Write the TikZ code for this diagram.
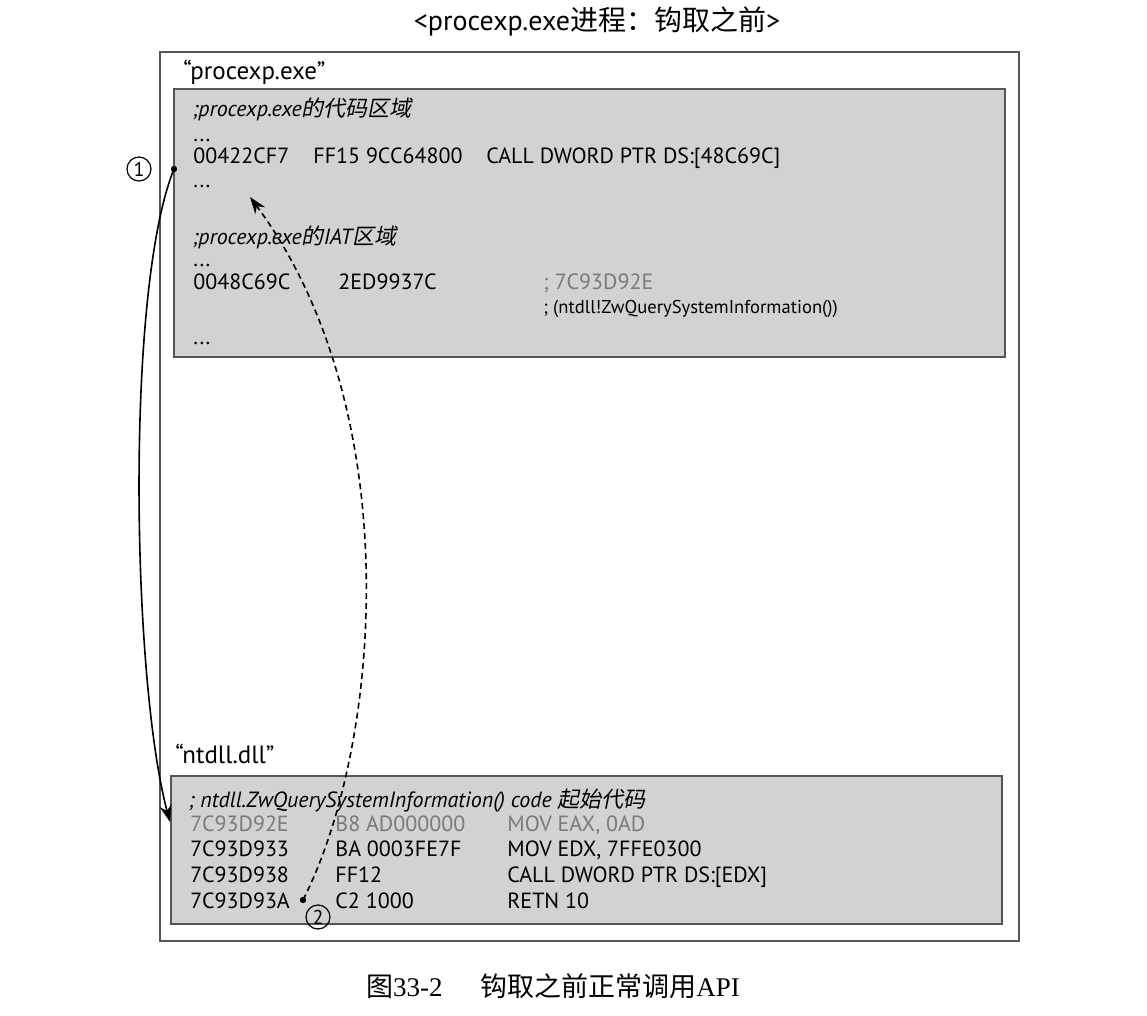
\documentclass[tikz,border=0pt]{standalone}
\usepackage{fontspec}
\setmainfont{PT Sans}
\newfontfamily\cjk{Noto Sans CJK SC}
\newfontfamily\cjkit[FakeSlant=0.2]{Noto Sans CJK SC}
\newfontfamily\capfont{Liberation Serif}
\usetikzlibrary{arrows.meta}
\definecolor{boxgray}{HTML}{D2D2D2}
\definecolor{edgegray}{HTML}{555555}
\definecolor{txtgray}{HTML}{7A7A7A}

\begin{document}
\begin{tikzpicture}[x=0.5pt,y=-0.5pt,
    asm/.style={anchor=base west,inner sep=0pt,font=\fontsize{11}{12}\selectfont},
    asmgray/.style={asm,text=txtgray},
    asmnote/.style={asm,font=\fontsize{9.3}{10}\selectfont},
    boxlbl/.style={asm,font=\fontsize{12.5}{14}\selectfont},
    callout/.style={circle,draw,line width=0.6pt,inner sep=0pt,minimum size=12pt,font=\fontsize{10}{10}\selectfont},
    flow/.style={line width=0.8pt,-{Stealth[length=8.5pt,width=6pt]}}]
    \useasboundingbox (0,0) rectangle (1147,1016);
    % frames
    \draw[edgegray,line width=0.8pt] (160,52) rectangle (1019,941);
    \filldraw[fill=boxgray,draw=edgegray,line width=1pt] (174,89) rectangle (1005,357);
    \filldraw[fill=boxgray,draw=edgegray,line width=1pt] (171,776) rectangle (1002,924);

    \node (title) at (597,31) [anchor=base,font=\fontsize{14}{16}\selectfont] {<procexp.exe{\cjk 进程：钩取之前}>};
    \node (caption) at (553,996) [anchor=base,font=\capfont\fontsize{13.5}{15}\selectfont] {{\cjk 图}33-2\hspace{1.4em}{\cjk 钩取之前正常调用}API};

    % procexp.exe
    \node (exelbl) at (183,80) [boxlbl] {“procexp.exe”};
    \node (exenote) at (192,117) [asm] {\itshape ;procexp.exe{\cjkit 的代码区域}};
    \node (exedots1) at (193,142) [asm] {...};
    \node (calladdr) at (193,164) [asm] {00422CF7};
    \node (callhex) at (313,164) [asm] {FF15 9CC64800};
    \node (callop) at (486,164) [asm] {CALL DWORD PTR DS:[48C69C]};
    \node (exedots2) at (193,188) [asm] {...};
    \node (iatnote) at (192,245) [asm] {\itshape ;procexp.exe{\cjkit 的}IAT{\cjkit 区域}};
    \node (iatdots1) at (193,267) [asm] {...};
    \node (iataddr) at (193,290) [asm] {0048C69C};
    \node (iatval) at (338,290) [asm] {2ED9937C};
    \node (iatcmt) at (543,290) [asmgray] {; 7C93D92E};
    \node (iatfn) at (543,314) [asmnote] {; (ntdll!ZwQuerySystemInformation())};
    \node (iatdots2) at (193,345) [asm] {...};

    % ntdll.dll
    \node (dlllbl) at (175,763) [boxlbl] {“ntdll.dll”};
    \node (dllnote) at (188,807) [asm] {\itshape ; ntdll.ZwQuerySystemInformation() code {\cjkit 起始代码}};
    \node (r1addr) at (190,831) [asmgray] {7C93D92E};
    \node (r1hex) at (335,831) [asmgray] {B8 AD000000};
    \node (r1op) at (507,831) [asmgray] {MOV EAX, 0AD};
    \node (r2addr) at (190,856) [asm] {7C93D933};
    \node (r2hex) at (335,856) [asm] {BA 0003FE7F};
    \node (r2op) at (507,856) [asm] {MOV EDX, 7FFE0300};
    \node (r3addr) at (190,882) [asm] {7C93D938};
    \node (r3hex) at (335,882) [asm] {FF12};
    \node (r3op) at (507,882) [asm] {CALL DWORD PTR DS:[EDX]};
    \node (r4addr) at (190,908) [asm] {7C93D93A};
    \node (r4hex) at (335,908) [asm] {C2 1000};
    \node (r4op) at (507,908) [asm] {RETN 10};

    % flow
    \coordinate (callsrc) at (174,169);
    \coordinate (callend) at (170,822);
    \coordinate (retsrc) at (303,900);
    \coordinate (retend) at (250,197);
    \fill (callsrc) circle (1.6pt);
    \fill (retsrc) circle (1.6pt);
    \draw[flow] (callsrc) .. controls (125,290) and (132,680) .. (callend);
    \draw[flow,dash pattern=on 3pt off 2pt] (retsrc) .. controls (382,745) and (408,410) .. (retend);
    \node (step1) at (139,169) [callout] {1};
    \node (step2) at (318,917) [callout] {2};
\end{tikzpicture}
\end{document}
